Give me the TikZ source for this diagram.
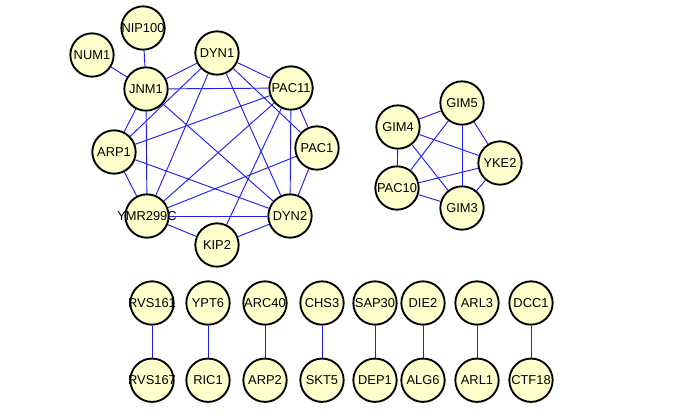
\documentclass[tikz,border=0pt]{standalone}
\usepackage{fontspec}
\setmainfont{Liberation Sans}
\usepackage{tikz}
\usetikzlibrary{positioning}
\definecolor{genefill}{RGB}{255,255,204}
\definecolor{linkblue}{RGB}{30,30,240}
\newcommand{\gname}[1]{\makebox[0pt]{#1}}
\tikzstyle{gene} = [draw, circle, fill=genefill, line width=1.6pt, minimum size=1.3cm, inner sep=0pt, font=\fontsize{11}{12}\selectfont]
\tikzstyle{link} = [draw=linkblue, line width=0.8pt]

\begin{document}
\begin{tikzpicture}[x=0.03cm,y=-0.03cm]
    \useasboundingbox (0,0) rectangle (685,419);

    % dynein cluster
    \node [gene] (nip100) at (143,28) {\gname{NIP100}};
    \node [gene] (num1) at (92,55) {\gname{NUM1}};
    \node [gene] (dyn1) at (217,53) {\gname{DYN1}};
    \node [gene] (jnm1) at (146,89) {\gname{JNM1}};
    \node [gene] (pac11) at (291,88) {\gname{PAC11}};
    \node [gene] (arp1) at (114,152) {\gname{ARP1}};
    \node [gene] (pac1) at (317,148) {\gname{PAC1}};
    \node [gene] (ymr) at (147,216) {\gname{YMR299C}};
    \node [gene] (dyn2) at (290,216) {\gname{DYN2}};
    \node [gene] (kip2) at (217,245) {\gname{KIP2}};

    % prefoldin cluster
    \node [gene] (gim5) at (462,103) {\gname{GIM5}};
    \node [gene] (gim4) at (398,127) {\gname{GIM4}};
    \node [gene] (yke2) at (500,163) {\gname{YKE2}};
    \node [gene] (pac10) at (397,188) {\gname{PAC10}};
    \node [gene] (gim3) at (462,208) {\gname{GIM3}};

    % pairs
    \node [gene] (rvs161) at (152,303) {\gname{RVS161}};
    \node [gene] (ypt6) at (208,303) {\gname{YPT6}};
    \node [gene] (arc40) at (265,303) {\gname{ARC40}};
    \node [gene] (chs3) at (322,303) {\gname{CHS3}};
    \node [gene] (sap30) at (375,303) {\gname{SAP30}};
    \node [gene] (die2) at (423,303) {\gname{DIE2}};
    \node [gene] (arl3) at (477,303) {\gname{ARL3}};
    \node [gene] (dcc1) at (531,303) {\gname{DCC1}};
    \node [gene, below = 0.96cm of rvs161] (rvs167) {\gname{RVS167}};
    \node [gene, below = 0.96cm of ypt6] (ric1) {\gname{RIC1}};
    \node [gene, below = 0.96cm of arc40] (arp2) {\gname{ARP2}};
    \node [gene, below = 0.96cm of chs3] (skt5) {\gname{SKT5}};
    \node [gene, below = 0.96cm of sap30] (dep1) {\gname{DEP1}};
    \node [gene, below = 0.96cm of die2] (alg6) {\gname{ALG6}};
    \node [gene, below = 0.96cm of arl3] (arl1) {\gname{ARL1}};
    \node [gene, below = 0.96cm of dcc1] (ctf18) {\gname{CTF18}};

    \draw [link] (num1) -- (jnm1); % connections
    \draw [link] (nip100) -- (jnm1);
    \draw [link] (jnm1) -- (dyn1);
    \draw [link] (jnm1) -- (pac11);
    \draw [link] (jnm1) -- (arp1);
    \draw [link] (jnm1) -- (ymr);
    \draw [link] (jnm1) -- (dyn2);
    \draw [link] (dyn1) -- (pac11);
    \draw [link] (dyn1) -- (pac1);
    \draw [link] (dyn1) -- (dyn2);
    \draw [link] (dyn1) -- (ymr);
    \draw [link] (dyn1) -- (arp1);
    \draw [link] (pac11) -- (pac1);
    \draw [link] (pac11) -- (dyn2);
    \draw [link] (pac11) -- (kip2);
    \draw [link] (pac11) -- (ymr);
    \draw [link] (pac11) -- (arp1);
    \draw [link] (pac1) -- (dyn2);
    \draw [link] (pac1) -- (ymr);
    \draw [link] (arp1) -- (ymr);
    \draw [link] (arp1) -- (dyn2);
    \draw [link] (ymr) -- (dyn2);
    \draw [link] (ymr) -- (kip2);
    \draw [link] (kip2) -- (dyn2);

    \draw [link] (gim4) -- (gim5);
    \draw [link] (gim4) -- (yke2);
    \draw [link] (gim4) -- (pac10);
    \draw [link] (gim4) -- (gim3);
    \draw [link] (gim5) -- (pac10);
    \draw [link] (gim5) -- (gim3);
    \draw [link] (gim5) -- (yke2);
    \draw [link] (yke2) -- (pac10);
    \draw [link] (yke2) -- (gim3);
    \draw [link] (pac10) -- (gim3);

    \draw [link] (rvs161) -- (rvs167);
    \draw [link] (ypt6) -- (ric1);
    \draw [link] (arc40) -- (arp2);
    \draw [link] (chs3) -- (skt5);
    \draw [link] (sap30) -- (dep1);
    \draw [link] (die2) -- (alg6);
    \draw [link] (arl3) -- (arl1);
    \draw [link] (dcc1) -- (ctf18);
\end{tikzpicture}
\end{document}
